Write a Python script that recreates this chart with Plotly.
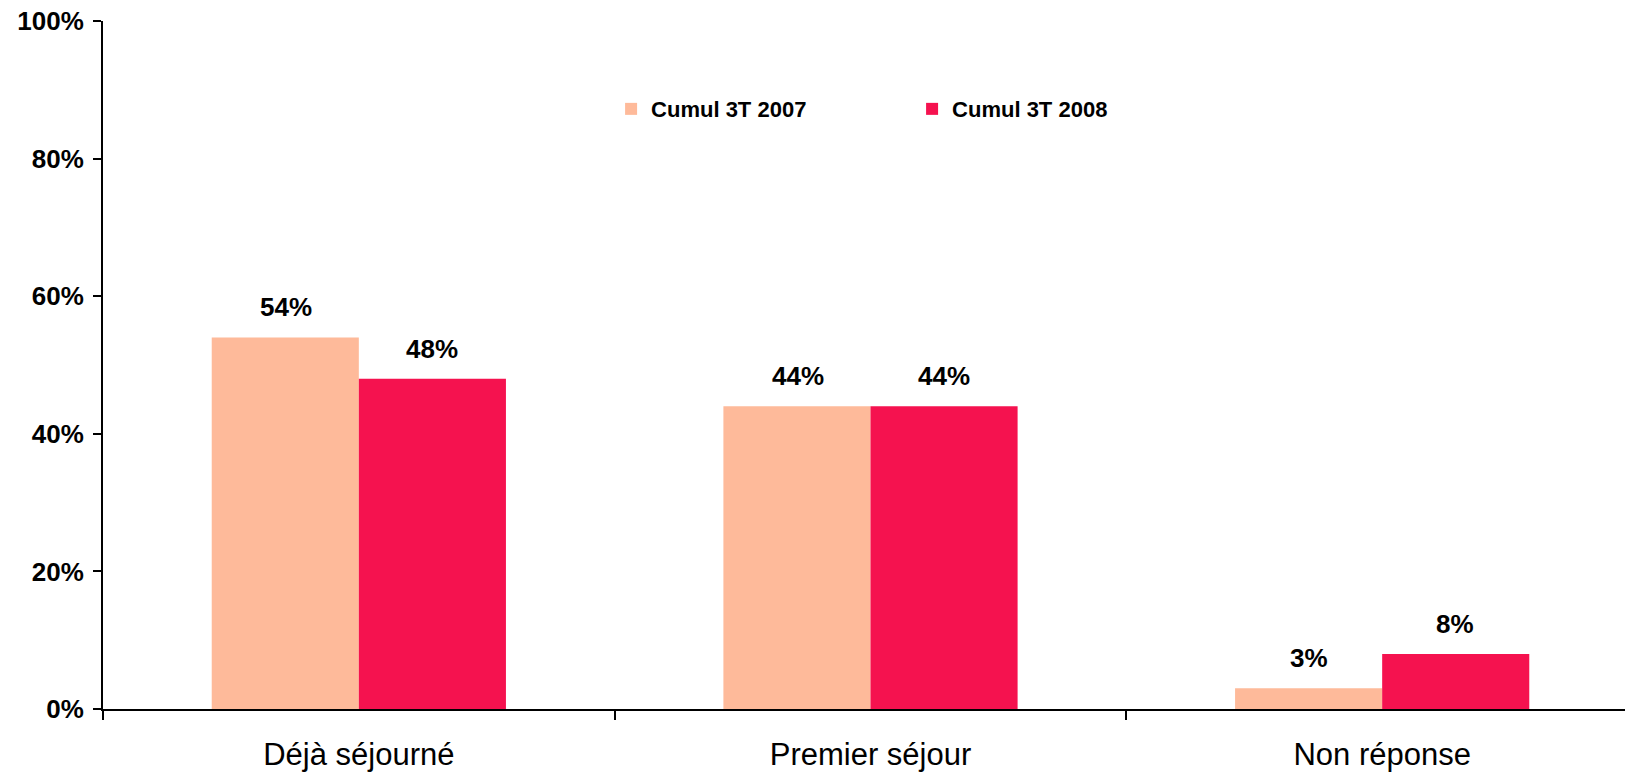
import plotly.graph_objects as go

categories = ["Déjà séjourné", "Premier séjour", "Non réponse"]
series_names = ["Cumul 3T 2007", "Cumul 3T 2008"]
values_2007 = [0.54, 0.44, 0.03]
values_2008 = [0.48, 0.44, 0.08]
colors = ["#FEBA9A", "#F5124F"]

# the x axis runs a little past the right edge of the window, as in the original
layout = go.Layout(
    width=1638, height=772,
    paper_bgcolor="white",
    plot_bgcolor="white",
    barmode="group",
    bargap=0.425,
    bargroupgap=0,
    margin=dict(l=103, r=0, t=21, b=63),
    font=dict(family="Liberation Sans, Arial, sans-serif", color="black"),
    legend=dict(
        orientation="h",
        x=0.331, y=0.872, xanchor="left", yanchor="middle",
        font=dict(size=22, family="Liberation Sans, Arial, sans-serif", weight="bold"),
        entrywidth=256, entrywidthmode="pixels",
        bgcolor="rgba(0,0,0,0)",
    ),
)
fig = go.Figure(layout=layout)

for name, vals, col in zip(series_names, [values_2007, values_2008], colors):
    fig.add_trace(go.Bar(x=categories, y=vals, name=name, marker=dict(color=col, line=dict(width=0))))

# value labels above each bar
for i, vals in enumerate([values_2007, values_2008]):
    shift = -73 if i == 0 else 73
    for cat, v in zip(categories, vals):
        fig.add_annotation(
            x=cat, y=v, text=f"{round(v * 100)}%", showarrow=False,
            xshift=shift, yshift=30,
            font=dict(size=26, weight="bold", family="Liberation Sans, Arial, sans-serif"),
        )

fig.update_yaxes(
    range=[0, 1], dtick=0.2, tickformat=".0%",
    showgrid=False, zeroline=False,
    showline=True, linecolor="black", linewidth=2,
    ticks="outside", ticklen=8, tickwidth=1.5, tickcolor="black",
    tickfont=dict(size=26, weight="bold"),
    ticklabelstandoff=4, ticklabeloverflow="allow", automargin=False,
)
fig.update_xaxes(
    showgrid=False, zeroline=False,
    showline=True, linecolor="black", linewidth=2,
    ticks="outside", tickson="boundaries", ticklen=9, tickwidth=1.5, tickcolor="black",
    tickfont=dict(size=31),
    ticklabelstandoff=17, automargin=False,
)

fig.write_html(
    "out.html",
    config={"displayModeBar": False},
    post_script="document.body.style.margin='0';document.body.style.overflow='hidden';",
)
